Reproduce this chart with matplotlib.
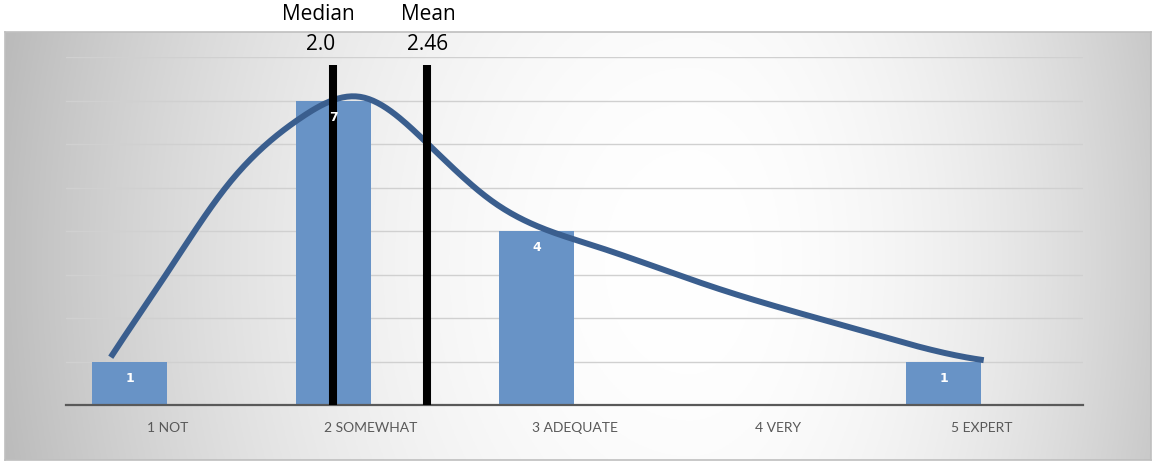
import numpy as np
import matplotlib.pyplot as plt

# survey answers per level
categories = ['1 NOT', '2 SOMEWHAT', '3 ADEQUATE', '4 VERY', '5 EXPERT']
counts = [1, 7, 4, 0, 1]
median_val = 2.0
mean_val = 2.46

# hand-drawn trend curve (x in category units, y in counts)
curve_x = [0.720, 0.853, 0.980, 1.113, 1.246, 1.359, 1.521, 1.688, 1.851, 1.910, 2.013, 2.146,
           2.293, 2.406, 2.573, 2.736, 2.898, 3.065, 3.262, 3.458, 3.783, 4.112, 4.441, 4.766, 5.012]
curve_y = [1.10, 2.02, 2.94, 3.86, 4.71, 5.45, 6.14, 6.71, 7.05, 7.06, 7.01, 6.62,
           5.93, 5.40, 4.76, 4.30, 3.98, 3.70, 3.40, 3.06, 2.57, 2.11, 1.66, 1.26, 1.03]
curve_knots = [1.0, 1.3, 1.65, 1.95, 2.25, 2.6, 3.1, 3.7, 4.4]

bar_offset = 0.186
bar_width = 0.37


def spline_basis(xv, knots):
    xv = np.asarray(xv, dtype=float)
    cols = [np.ones_like(xv), xv, xv ** 2, xv ** 3]
    cols += [np.clip(xv - k, 0, None) ** 3 for k in knots]
    return np.column_stack(cols)


def smooth_curve(xs, ys, knots, n=400):
    coef, *_ = np.linalg.lstsq(spline_basis(xs, knots), np.asarray(ys), rcond=None)
    xx = np.linspace(xs[0], xs[-1], n)
    return xx, spline_basis(xx, knots) @ coef


fig = plt.figure(figsize=(11.56, 4.62), dpi=100)

# chart area background: gray at the sides, white towards the middle
bg = fig.add_axes([5 / 1156, 2 / 462, 1146 / 1156, 428 / 462])
gx, gy = np.meshgrid(np.linspace(0, 1146, 500), np.linspace(0, 428, 200))
cx0 = 685
rx = np.where(gx < cx0, 680, 520)
d = np.sqrt(((gx - cx0) / rx) ** 2 + ((gy - 230) / 900) ** 2)
shade = 1 - 0.25 * np.clip(d, 0, 1.2) ** 2
bg.imshow(np.dstack([shade] * 3), extent=[0, 1, 0, 1], aspect='auto', origin='upper')
bg.set_xticks([])
bg.set_yticks([])
for s in bg.spines.values():
    s.set_color('#bfbfbf')
    s.set_linewidth(1.2)

ax = fig.add_axes([66 / 1156, 57 / 462, 1017 / 1156, 348 / 462])
ax.set_facecolor('none')

x = np.arange(1, len(categories) + 1)
bars = ax.bar(x - bar_offset, counts, width=bar_width, color='#6893c6', zorder=2)
for b, v in zip(bars, counts):
    if v > 0:
        ax.text(b.get_x() + b.get_width() / 2, v - 0.38, str(v), ha='center', va='center',
                color='white', fontsize=9, fontweight='bold', zorder=6)

cx, cy = smooth_curve(curve_x, curve_y, curve_knots)
ax.plot(cx, cy, color='#3a5e8e', lw=4.3, solid_capstyle='butt', zorder=4)

for v in (median_val, mean_val):
    ax.plot([v - bar_offset] * 2, [0, 7.82], color='black', lw=5.8, solid_capstyle='butt', zorder=5)

ax.set_xlim(0.5, 5.5)
ax.set_ylim(0, 8)
ax.set_yticks(range(1, 9))
ax.yaxis.grid(True, color='#d0d0d0', lw=1)
ax.set_axisbelow(True)
ax.tick_params(axis='y', left=False, labelleft=False)
ax.set_xticks(x)
ax.set_xticklabels(categories, fontsize=10, color='#595959', family=['Lato', 'DejaVu Sans'])
ax.tick_params(axis='x', length=0, pad=12)
for side in ('left', 'right', 'top'):
    ax.spines[side].set_visible(False)
ax.spines['bottom'].set_color('#595959')
ax.spines['bottom'].set_linewidth(1.6)

fig.text(318 / 1156, 1 - 15 / 462, 'Median', ha='center', va='center', fontsize=15, family='Open Sans')
fig.text(321 / 1156, 1 - 45 / 462, f'{median_val:.1f}', ha='center', va='center', fontsize=15, family='Open Sans')
fig.text(428 / 1156, 1 - 15 / 462, 'Mean', ha='center', va='center', fontsize=15, family='Open Sans')
fig.text(428 / 1156, 1 - 45 / 462, f'{mean_val:.2f}', ha='center', va='center', fontsize=15, family='Open Sans')

fig.savefig('out.png', dpi=100)
